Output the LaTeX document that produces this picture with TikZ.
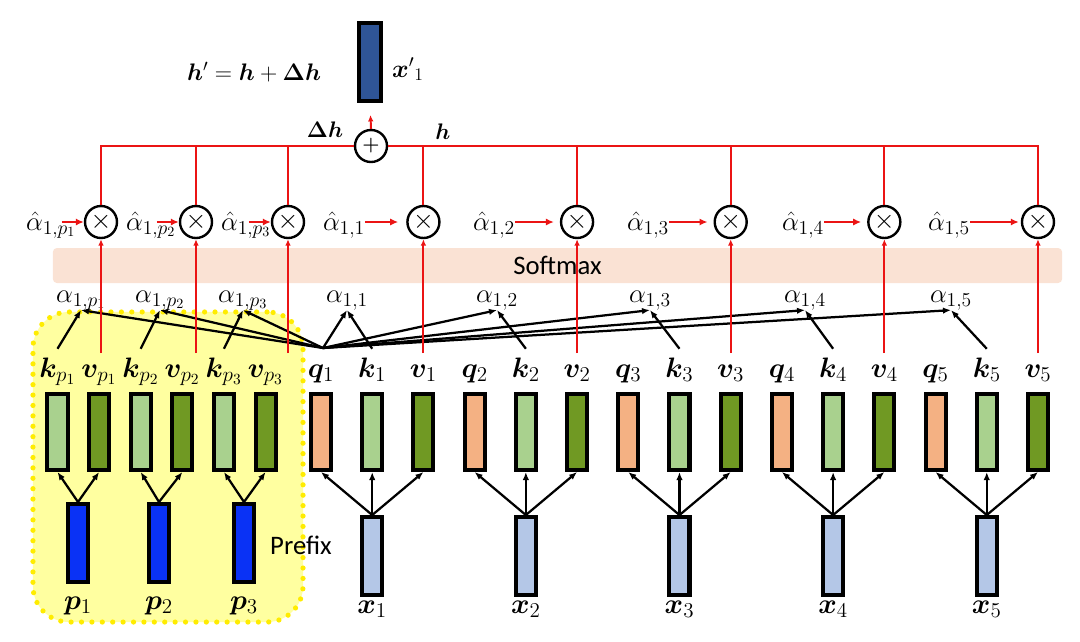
\RequirePackage{fix-cm}
\documentclass[tikz,border=0pt]{standalone}
\usepackage[no-math]{fontspec}
\usepackage{amsmath,bm}
\usepackage{tikz}
\usetikzlibrary{arrows.meta,positioning,calc}
\newfontfamily\calibri{Carlito}
\DeclareMathSizes{20}{20}{15}{11}
\DeclareMathSizes{19}{19}{14}{10}
\definecolor{QOrange}{RGB}{244,177,131}
\definecolor{KGreen}{RGB}{169,209,142}
\definecolor{VGreen}{RGB}{112,153,35}
\definecolor{XBlue}{RGB}{180,199,231}
\definecolor{PBlue}{RGB}{10,50,245}
\definecolor{OutBlue}{RGB}{47,85,151}
\definecolor{SoftPeach}{RGB}{250,226,212}
\definecolor{PrefixYellow}{RGB}{255,255,160}
\definecolor{DotYellow}{RGB}{255,236,0}
\definecolor{AttRed}{RGB}{235,20,20}

\begin{document}
\begin{tikzpicture}[
x=0.025cm, y=-0.025cm,
bar/.style={
draw=black,
line width=0.1cm,
minimum width=0.5cm,
minimum height=1.9cm,
inner sep=0pt
},
qbar/.style={bar, fill=QOrange},
kbar/.style={bar, fill=KGreen},
vbar/.style={bar, fill=VGreen},
xbar/.style={bar, fill=XBlue, minimum height=1.95cm},
pbar/.style={bar, fill=PBlue, minimum height=1.95cm},
lbl/.style={anchor=base, inner sep=1pt, font=\fontsize{20}{22}\selectfont},
alab/.style={anchor=base, inner sep=0pt, font=\fontsize{19}{21}\selectfont},
mult/.style={
circle,
draw=black,
fill=white,
line width=0.06cm,
minimum size=0.8cm,
inner sep=0pt,
font=\fontsize{19}{20}\selectfont
},
prefixbox/.style={
draw=DotYellow,
fill=PrefixYellow,
line width=1.3mm,
dash pattern=on 0pt off 2.6mm,
line cap=round,
rounded corners=0.9cm
},
band/.style={
fill=SoftPeach,
rounded corners=0.1cm,
minimum width=25.225cm,
minimum height=0.875cm,
inner sep=0pt,
font=\calibri\fontsize{19}{22}\selectfont
},
arrow/.style={-{Latex[length=2mm,width=1.6mm]},line width=1.6pt},
redline/.style={draw=AttRed,line width=1.4pt},
redarrow/.style={redline,-{Latex[length=2mm,width=1.8mm]}},
redup/.style={redline,-{Latex[length=1.6mm,width=1.4mm]}}
]
\useasboundingbox (0,0) rectangle (1080,641);

% background regions
\node[prefixbox, minimum width=6.75cm, minimum height=7.75cm] (prefixarea) at (168,467) {};
\node[band] (softmax) at (557.5,265.5) {Softmax};
\node[font=\calibri\fontsize{19}{22}\selectfont] (prefixlbl) at (301,545) {Prefix};

% prefix keys and values
\node[kbar] (kp1) at (57.5,432) {};
\node[vbar, right=0.44cm of kp1] (vp1) {};
\node[kbar, right=0.44cm of vp1] (kp2) {};
\node[vbar, right=0.44cm of kp2] (vp2) {};
\node[kbar, right=0.44cm of vp2] (kp3) {};
\node[vbar, right=0.44cm of kp3] (vp3) {};

% queries, keys and values of the tokens
\node[qbar] (q1) at (321,432) {};
\node[kbar, right=0.68cm of q1] (k1) {};
\node[vbar, right=0.68cm of k1] (v1) {};
\node[qbar, right=0.68cm of v1] (q2) {};
\node[kbar, right=0.68cm of q2] (k2) {};
\node[vbar, right=0.68cm of k2] (v2) {};
\node[qbar, right=0.68cm of v2] (q3) {};
\node[kbar, right=0.68cm of q3] (k3) {};
\node[vbar, right=0.68cm of k3] (v3) {};
\node[qbar, right=0.68cm of v3] (q4) {};
\node[kbar, right=0.68cm of q4] (k4) {};
\node[vbar, right=0.68cm of k4] (v4) {};
\node[qbar, right=0.68cm of v4] (q5) {};
\node[kbar, right=0.68cm of q5] (k5) {};
\node[vbar, right=0.68cm of k5] (v5) {};

% inputs
\node[pbar] (p1) at (78,543) {};
\node[pbar] (p2) at (159,543) {};
\node[pbar] (p3) at (244,543) {};
\node[xbar, below=1.075cm of k1] (x1) {};
\node[xbar, below=1.075cm of k2] (x2) {};
\node[xbar, below=1.075cm of k3] (x3) {};
\node[xbar, below=1.075cm of k4] (x4) {};
\node[xbar, below=1.075cm of k5] (x5) {};

% vector labels
\node[lbl] (lkp1) at ($(kp1.north)+(0,-15)$) {$\bm{k}_{p_1}$};
\node[lbl] (lvp1) at ($(vp1.north)+(0,-15)$) {$\bm{v}_{p_1}$};
\node[lbl] (lkp2) at ($(kp2.north)+(0,-15)$) {$\bm{k}_{p_2}$};
\node[lbl] (lvp2) at ($(vp2.north)+(0,-15)$) {$\bm{v}_{p_2}$};
\node[lbl] (lkp3) at ($(kp3.north)+(0,-15)$) {$\bm{k}_{p_3}$};
\node[lbl] (lvp3) at ($(vp3.north)+(0,-15)$) {$\bm{v}_{p_3}$};
\node[lbl] (lq1) at ($(q1.north)+(0,-15)$) {$\bm{q}_1$};
\node[lbl] (lk1) at ($(k1.north)+(0,-15)$) {$\bm{k}_1$};
\node[lbl] (lv1) at ($(v1.north)+(0,-15)$) {$\bm{v}_1$};
\node[lbl] (lq2) at ($(q2.north)+(0,-15)$) {$\bm{q}_2$};
\node[lbl] (lk2) at ($(k2.north)+(0,-15)$) {$\bm{k}_2$};
\node[lbl] (lv2) at ($(v2.north)+(0,-15)$) {$\bm{v}_2$};
\node[lbl] (lq3) at ($(q3.north)+(0,-15)$) {$\bm{q}_3$};
\node[lbl] (lk3) at ($(k3.north)+(0,-15)$) {$\bm{k}_3$};
\node[lbl] (lv3) at ($(v3.north)+(0,-15)$) {$\bm{v}_3$};
\node[lbl] (lq4) at ($(q4.north)+(0,-15)$) {$\bm{q}_4$};
\node[lbl] (lk4) at ($(k4.north)+(0,-15)$) {$\bm{k}_4$};
\node[lbl] (lv4) at ($(v4.north)+(0,-15)$) {$\bm{v}_4$};
\node[lbl] (lq5) at ($(q5.north)+(0,-15)$) {$\bm{q}_5$};
\node[lbl] (lk5) at ($(k5.north)+(0,-15)$) {$\bm{k}_5$};
\node[lbl] (lv5) at ($(v5.north)+(0,-15)$) {$\bm{v}_5$};
\node[lbl] (lp1) at ($(p1.south)+(0,25)$) {$\bm{p}_1$};
\node[lbl] (lp2) at ($(p2.south)+(0,25)$) {$\bm{p}_2$};
\node[lbl] (lp3) at ($(p3.south)+(0,25)$) {$\bm{p}_3$};
\node[lbl] (lx1) at ($(x1.south)+(0,16)$) {$\bm{x}_1$};
\node[lbl] (lx2) at ($(x2.south)+(0,16)$) {$\bm{x}_2$};
\node[lbl] (lx3) at ($(x3.south)+(0,16)$) {$\bm{x}_3$};
\node[lbl] (lx4) at ($(x4.south)+(0,16)$) {$\bm{x}_4$};
\node[lbl] (lx5) at ($(x5.south)+(0,16)$) {$\bm{x}_5$};

% attention scores
\node[alab] (ap1) at (81,302) {$\alpha_{1,p_1}$};
\node[alab] (ap2) at (160,302) {$\alpha_{1,p_2}$};
\node[alab] (ap3) at (243,302) {$\alpha_{1,p_3}$};
\node[alab] (a1) at (347,302) {$\alpha_{1,1}$};
\node[alab] (a2) at (497,302) {$\alpha_{1,2}$};
\node[alab] (a3) at (650,302) {$\alpha_{1,3}$};
\node[alab] (a4) at (805,302) {$\alpha_{1,4}$};
\node[alab] (a5) at (951,302) {$\alpha_{1,5}$};

% normalised weights
\node[alab] (ahp1) at (51,230) {$\hat{\alpha}_{1,p_1}$};
\node[alab] (ahp2) at (151,230) {$\hat{\alpha}_{1,p_2}$};
\node[alab] (ahp3) at (246,230) {$\hat{\alpha}_{1,p_3}$};
\node[alab] (ah1) at (344,230) {$\hat{\alpha}_{1,1}$};
\node[alab] (ah2) at (494,230) {$\hat{\alpha}_{1,2}$};
\node[alab] (ah3) at (648,230) {$\hat{\alpha}_{1,3}$};
\node[alab] (ah4) at (803,230) {$\hat{\alpha}_{1,4}$};
\node[alab] (ah5) at (949,230) {$\hat{\alpha}_{1,5}$};

% weighting
\coordinate (mrow) at (0,222);
\node[mult] (mp1) at (101,222) {$\times$};
\node[mult] (mp2) at (196,222) {$\times$};
\node[mult] (mp3) at (288,222) {$\times$};
\node[mult] (m1) at (v1 |- mrow) {$\times$};
\node[mult] (m2) at (v2 |- mrow) {$\times$};
\node[mult] (m3) at (v3 |- mrow) {$\times$};
\node[mult] (m4) at (v4 |- mrow) {$\times$};
\node[mult] (m5) at (v5 |- mrow) {$\times$};

% sum and output
\node[mult, font=\fontsize{14}{14}\selectfont] (sum) at (371,146) {$\bm{+}$};
\node[bar, fill=OutBlue, minimum width=0.55cm, minimum height=1.95cm] (xout) at (370,62) {};
\node[lbl, font=\fontsize{18}{20}\selectfont] (lxout) at (408,77) {${\bm{x}'}_1$};
\node[lbl, font=\fontsize{17}{20}\selectfont] (update) at (254,80) {$\bm{h}'=\bm{h}+\bm{\Delta h}$};
\node[lbl, font=\fontsize{16}{18}\selectfont] (ldh) at (325,137) {$\bm{\Delta h}$};
\node[lbl, font=\fontsize{16}{18}\selectfont] (lh) at (443,139) {$\bm{h}$};

% projections
\draw[arrow] (p1.north) -- (kp1.south);
\draw[arrow] (p1.north) -- (vp1.south);
\draw[arrow] (p2.north) -- (kp2.south);
\draw[arrow] (p2.north) -- (vp2.south);
\draw[arrow] (p3.north) -- (kp3.south);
\draw[arrow] (p3.north) -- (vp3.south);
\draw[arrow] (x1.north) -- (q1.south);
\draw[arrow] (x1.north) -- (k1.south);
\draw[arrow] (x1.north) -- (v1.south);
\draw[arrow] (x2.north) -- (q2.south);
\draw[arrow] (x2.north) -- (k2.south);
\draw[arrow] (x2.north) -- (v2.south);
\draw[arrow] (x3.north) -- (q3.south);
\draw[arrow] (x3.north) -- (k3.south);
\draw[arrow] (x3.north) -- (v3.south);
\draw[arrow] (x4.north) -- (q4.south);
\draw[arrow] (x4.north) -- (k4.south);
\draw[arrow] (x4.north) -- (v4.south);
\draw[arrow] (x5.north) -- (q5.south);
\draw[arrow] (x5.north) -- (k5.south);
\draw[arrow] (x5.north) -- (v5.south);

% query against keys
\coordinate (att) at (323,348);
\draw[arrow] (att) -- (ap1.south);
\draw[arrow] (att) -- (ap2.south);
\draw[arrow] (att) -- (ap3.south);
\draw[arrow] (att) -- (a1.south);
\draw[arrow] (att) -- (a2.south);
\draw[arrow] (att) -- (a3.south);
\draw[arrow] (att) -- (a4.south);
\draw[arrow] (att) -- (a5.south);
\draw[arrow] ([yshift=5pt]lkp1.north) -- (ap1.south);
\draw[arrow] ([yshift=5pt]lkp2.north) -- (ap2.south);
\draw[arrow] ([yshift=5pt]lkp3.north) -- (ap3.south);
\draw[arrow] ([yshift=5pt]lk1.north) -- (a1.south);
\draw[arrow] ([yshift=5pt]lk2.north) -- (a2.south);
\draw[arrow] ([yshift=5pt]lk3.north) -- (a3.south);
\draw[arrow] ([yshift=5pt]lk4.north) -- (a4.south);
\draw[arrow] ([yshift=5pt]lk5.north) -- (a5.south);

% values up to the weighting
\coordinate (vtop) at (0,353);
\draw[redup] (mp1 |- vtop) -- (mp1.south);
\draw[redup] (mp2 |- vtop) -- (mp2.south);
\draw[redup] (mp3 |- vtop) -- (mp3.south);
\draw[redup] (m1 |- vtop) -- (m1.south);
\draw[redup] (m2 |- vtop) -- (m2.south);
\draw[redup] (m3 |- vtop) -- (m3.south);
\draw[redup] (m4 |- vtop) -- (m4.south);
\draw[redup] (m5 |- vtop) -- (m5.south);

% weights into the products
\draw[redarrow] ($(mp1.west)+(-22,0)$) -- (mp1.west);
\draw[redarrow] ($(mp2.west)+(-22,0)$) -- (mp2.west);
\draw[redarrow] ($(mp3.west)+(-22,0)$) -- (mp3.west);
\draw[redarrow, shorten >=2mm] (ah1.east |- m1.west) -- (m1.west);
\draw[redarrow, shorten >=1.5mm] (ah2.east |- m2.west) -- (m2.west);
\draw[redarrow, shorten >=1.5mm] (ah3.east |- m3.west) -- (m3.west);
\draw[redarrow, shorten >=1.5mm] (ah4.east |- m4.west) -- (m4.west);
\draw[redarrow, shorten >=0.5mm] (ah5.east |- m5.west) -- (m5.west);

% products summed
\draw[redline] (mp1.north) |- (sum.west);
\draw[redline] (mp2.north) |- (sum.west);
\draw[redline] (mp3.north) |- (sum.west);
\draw[redline] (m1.north) |- (sum.east);
\draw[redline] (m2.north) |- (sum.east);
\draw[redline] (m3.north) |- (sum.east);
\draw[redline] (m4.north) |- (sum.east);
\draw[redline] (m5.north) |- (sum.east);
\draw[redup, shorten >=0.3cm] (sum.north) -- (xout.south);
\end{tikzpicture}
\end{document}
